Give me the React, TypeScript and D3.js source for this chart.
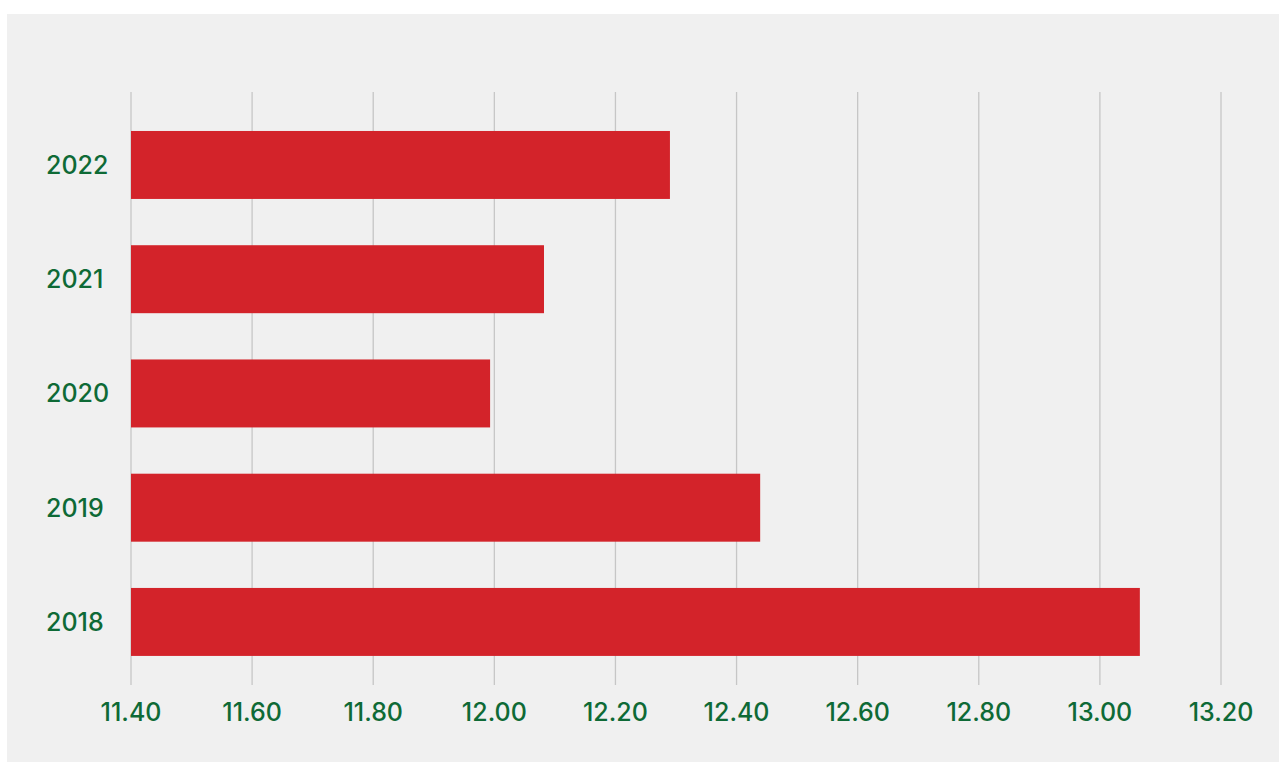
import React from "react";
import * as d3 from "d3";

const years = ["2022", "2021", "2020", "2019", "2018"];
const values = [12.29, 12.082, 11.993, 12.439, 13.066];
const xTicks = [11.4, 11.6, 11.8, 12.0, 12.2, 12.4, 12.6, 12.8, 13.0, 13.2];

const W = 1279;
const H = 762;

export default function App() {
  const x = d3.scaleLinear().domain([11.4, 13.2]).range([131, 1221]);
  const y = d3
    .scaleBand<string>()
    .domain(years)
    .range([96.7, 690.2])
    .paddingInner(0.405)
    .paddingOuter(0.3);
  const green = "#0e6a36";
  const font = "Inter, 'DejaVu Sans', sans-serif";
  return (
    <svg
      width={W}
      height={H}
      style={{ position: "absolute", left: 0, top: 0 }}
    >
      <rect x={0} y={0} width={W} height={H} fill="#ffffff" />
      <rect x={7} y={14} width={W - 7} height={H - 14} fill="#f0f0f0" />
      {xTicks.map((t) => (
        <line
          key={"g" + t}
          x1={x(t)}
          x2={x(t)}
          y1={92}
          y2={685}
          stroke="#c6c6c6"
          strokeWidth={1.3}
        />
      ))}
      {years.map((yr, i) => (
        <rect
          key={yr}
          x={x(11.4)}
          y={y(yr)}
          width={x(values[i]) - x(11.4)}
          height={y.bandwidth()}
          fill="#d3232a"
        />
      ))}
      {years.map((yr) => (
        <text
          key={"l" + yr}
          x={46}
          y={(y(yr) as number) + y.bandwidth() / 2}
          dy="0.36em"
          textAnchor="start"
          fill={green}
          fontFamily={font}
          fontWeight={500}
          fontSize={25}
        >
          {yr}
        </text>
      ))}
      {xTicks.map((t) => (
        <text
          key={"t" + t}
          x={x(t)}
          y={721}
          textAnchor="middle"
          fill={green}
          fontFamily={font}
          fontWeight={500}
          fontSize={25}
        >
          {d3.format(".2f")(t)}
        </text>
      ))}
    </svg>
  );
}
